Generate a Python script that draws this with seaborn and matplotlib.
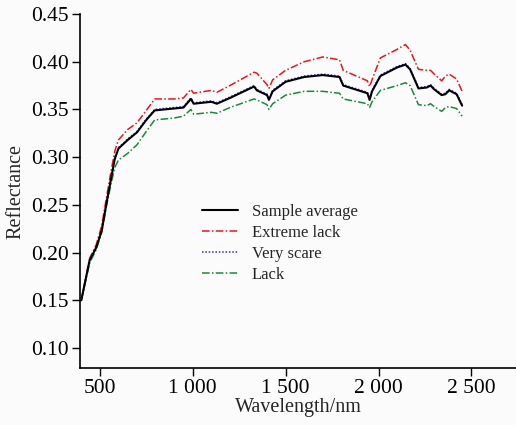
import matplotlib
matplotlib.use("Agg")
import matplotlib.pyplot as plt
import seaborn as sns
import pandas as pd

wavelength = [400, 445, 480, 510, 535, 560, 580, 600, 650, 700, 750, 795, 900, 950, 990, 1005,
              1100, 1130, 1200, 1330, 1345, 1400, 1410, 1430, 1500, 1600, 1700, 1790,
              1810, 1940, 1952, 1965, 2010, 2100, 2145, 2170, 2215, 2260, 2280, 2300,
              2340, 2360, 2380, 2420, 2450]

sample_average = [0.150, 0.192, 0.205, 0.223, 0.251, 0.277, 0.298, 0.309, 0.318, 0.326, 0.339, 0.349,
                  0.351, 0.352, 0.361, 0.356, 0.358, 0.356, 0.362, 0.374, 0.370, 0.365,
                  0.360, 0.369, 0.379, 0.384, 0.386, 0.384, 0.375, 0.367, 0.360, 0.369,
                  0.385, 0.394, 0.397, 0.392, 0.372, 0.373, 0.375, 0.371, 0.365, 0.366,
                  0.370, 0.366, 0.354]

extreme_lack = [0.150, 0.194, 0.208, 0.228, 0.257, 0.285, 0.306, 0.318, 0.329, 0.336, 0.349, 0.361,
                0.361, 0.362, 0.371, 0.367, 0.370, 0.368, 0.375, 0.389, 0.388, 0.376,
                0.372, 0.381, 0.391, 0.400, 0.405, 0.402, 0.391, 0.380, 0.374, 0.381,
                0.404, 0.413, 0.418, 0.412, 0.392, 0.391, 0.391, 0.387, 0.380, 0.385,
                0.387, 0.382, 0.369]

very_scare = [0.150, 0.192, 0.206, 0.224, 0.252, 0.278, 0.299, 0.310, 0.319, 0.327, 0.340, 0.350,
              0.352, 0.353, 0.362, 0.357, 0.359, 0.357, 0.363, 0.375, 0.371, 0.366,
              0.361, 0.370, 0.380, 0.385, 0.387, 0.385, 0.376, 0.368, 0.361, 0.370,
              0.386, 0.395, 0.398, 0.393, 0.373, 0.374, 0.376, 0.372, 0.366, 0.367,
              0.371, 0.367, 0.355]

lack = [0.150, 0.189, 0.203, 0.221, 0.248, 0.272, 0.289, 0.297, 0.304, 0.313, 0.327, 0.339,
        0.341, 0.343, 0.350, 0.345, 0.347, 0.346, 0.352, 0.361, 0.360, 0.355,
        0.350, 0.356, 0.365, 0.369, 0.369, 0.367, 0.361, 0.356, 0.352, 0.358,
        0.370, 0.375, 0.378, 0.375, 0.355, 0.354, 0.356, 0.353, 0.348, 0.352,
        0.353, 0.351, 0.343]

series_names = ["Sample average", "Extreme lack", "Very scare", "Lack"]
xticks = [500, 1000, 1500, 2000, 2500]
xtick_labels = ["500", "1 000", "1 500", "2 000", "2 500"]
yticks = [0.10, 0.15, 0.20, 0.25, 0.30, 0.35, 0.40, 0.45]
ytick_labels = ["0.10", "0.15", "0.20", "0.25", "0.30", "0.35", "0.40", "0.45"]

sns.set_style("ticks")
plt.rcParams["font.family"] = ["Liberation Serif", "DejaVu Serif"]

df = pd.DataFrame({
    "Wavelength": wavelength * 4,
    "Reflectance": sample_average + extreme_lack + very_scare + lack,
    "Series": sum([[n] * len(wavelength) for n in series_names], []),
})

fig = plt.figure(figsize=(5.16, 4.25), dpi=100, facecolor="#fbfbfb")
ax = fig.add_axes([0.155, 0.134, 0.845, 0.833])
ax.set_facecolor("#fbfbfb")

styles = {
    "Sample average": dict(color="black", linestyle="-", linewidth=1.5),
    "Extreme lack": dict(color="#e8161b", linestyle=(0, (5, 1.5, 1, 1.5)), linewidth=1.1),
    "Very scare": dict(color="#3030c0", linestyle=(0, (1, 1.2)), linewidth=1.1),
    "Lack": dict(color="#1a8a3a", linestyle=(0, (5, 1.5, 1, 1.5)), linewidth=1.1),
}
order = ["Extreme lack", "Lack", "Very scare", "Sample average"]
for name in order:
    sub = df[df["Series"] == name]
    sns.lineplot(data=sub, x="Wavelength", y="Reflectance", ax=ax, label=name,
                 **styles[name])

handles, labels = ax.get_legend_handles_labels()
hmap = dict(zip(labels, handles))
ax.legend([hmap[n] for n in series_names], series_names, loc="upper left",
          bbox_to_anchor=(0.245, 0.505), frameon=False, fontsize=12,
          handlelength=2.2, handletextpad=0.8, labelspacing=0.3)

ax.set_xlim(393, 2740)
ax.set_ylim(0.079, 0.45)
ax.set_xticks(xticks)
ax.set_xticklabels(xtick_labels)
ax.set_yticks(yticks)
ax.set_yticklabels(ytick_labels)
ax.tick_params(direction="out", length=6, width=1, labelsize=15.5, colors="black", pad=2)
ax.set_xlabel("Wavelength/nm", fontsize=14.5, labelpad=0)
ax.set_ylabel("Reflectance", fontsize=14.5, labelpad=4)
for s in ["top", "right"]:
    ax.spines[s].set_visible(False)
for s in ["left", "bottom"]:
    ax.spines[s].set_linewidth(1.2)
    ax.spines[s].set_color("black")

fig.savefig("out.png", dpi=100, facecolor=fig.get_facecolor())
